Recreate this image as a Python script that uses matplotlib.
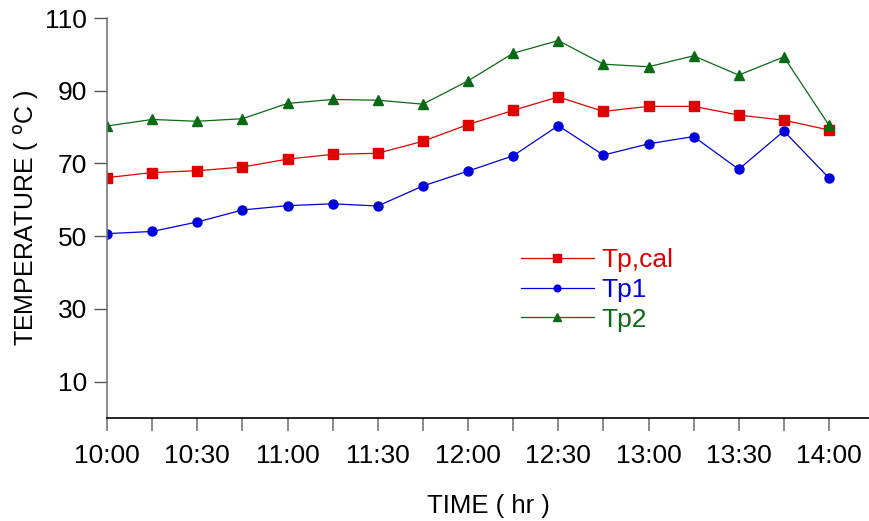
import matplotlib
matplotlib.use("Agg")
import matplotlib.pyplot as plt

plt.rcParams['font.family'] = ['Liberation Sans', 'DejaVu Sans']

times = ["10:00", "10:15", "10:30", "10:45", "11:00", "11:15", "11:30", "11:45",
         "12:00", "12:15", "12:30", "12:45", "13:00", "13:15", "13:30", "13:45", "14:00"]
tp_cal = [66.1, 67.5, 68.0, 69.0, 71.2, 72.5, 72.8, 76.1, 80.7,
          84.6, 88.3, 84.3, 85.7, 85.7, 83.3, 81.9, 79.2]
tp1 = [50.7, 51.3, 53.9, 57.2, 58.4, 58.9, 58.3, 63.8, 67.9,
       72.1, 80.4, 72.3, 75.4, 77.4, 68.4, 78.9, 66.0]
tp2 = [80.3, 82.1, 81.6, 82.3, 86.5, 87.6, 87.4, 86.3, 92.7,
       100.3, 103.8, 97.3, 96.6, 99.6, 94.3, 99.3, 80.5]
tick_labels = ["10:00", "10:30", "11:00", "11:30", "12:00", "12:30", "13:00", "13:30", "14:00"]
y_ticks = [10, 30, 50, 70, 90, 110]

red = '#e00000'
blue = '#0000dd'
green = '#0a6a14'

fig = plt.figure(figsize=(8.69, 5.21), dpi=100)
ax = fig.add_axes([107/869, 103/521, 762/869, 400/521])

x = list(range(len(times)))
ax.plot(x, tp_cal, color=red, lw=0.9, marker='s', ms=7.2, label='Tp,cal')
ax.plot(x, tp1, color=blue, lw=0.9, marker='o', ms=6.5, label='Tp1')
ax.plot(x, tp2, color=green, lw=0.9, marker='^', ms=7.5, label='Tp2')

ax.set_xlim(0, 762/45.125)
ax.set_ylim(0, 110)
ax.set_xticks(x, minor=False)
ax.set_xticklabels([t if t in tick_labels else '' for t in times])
ax.set_yticks(y_ticks)

for s in ['top', 'right']:
    ax.spines[s].set_visible(False)
ax.spines['left'].set_color('#777777')
ax.spines['bottom'].set_color('black')
ax.spines['left'].set_linewidth(1.2)
ax.spines['bottom'].set_linewidth(1.2)

ax.tick_params(axis='x', length=9.5, width=1.2, color='#777777', labelsize=19, pad=9)
ax.tick_params(axis='y', length=9.5, width=1.0, color='#555555', labelsize=19, pad=5)

ax.set_xlabel('TIME ( hr )', fontsize=18.5, labelpad=19)
ax.set_ylabel(r'TEMPERATURE ( $^{\rm o}$C )', fontsize=18)
ax.yaxis.set_label_coords(-0.086, 0.5)

leg = ax.legend(loc='upper left', bbox_to_anchor=(521/869, 273/521),
                bbox_transform=fig.transFigure, frameon=False, fontsize=19,
                handlelength=2.75, handletextpad=0.3, labelspacing=0.22,
                markerscale=0.75, borderpad=0, borderaxespad=0)
for t, c in zip(leg.get_texts(), [red, blue, green]):
    t.set_color(c)

fig.savefig('out.png', dpi=100)
